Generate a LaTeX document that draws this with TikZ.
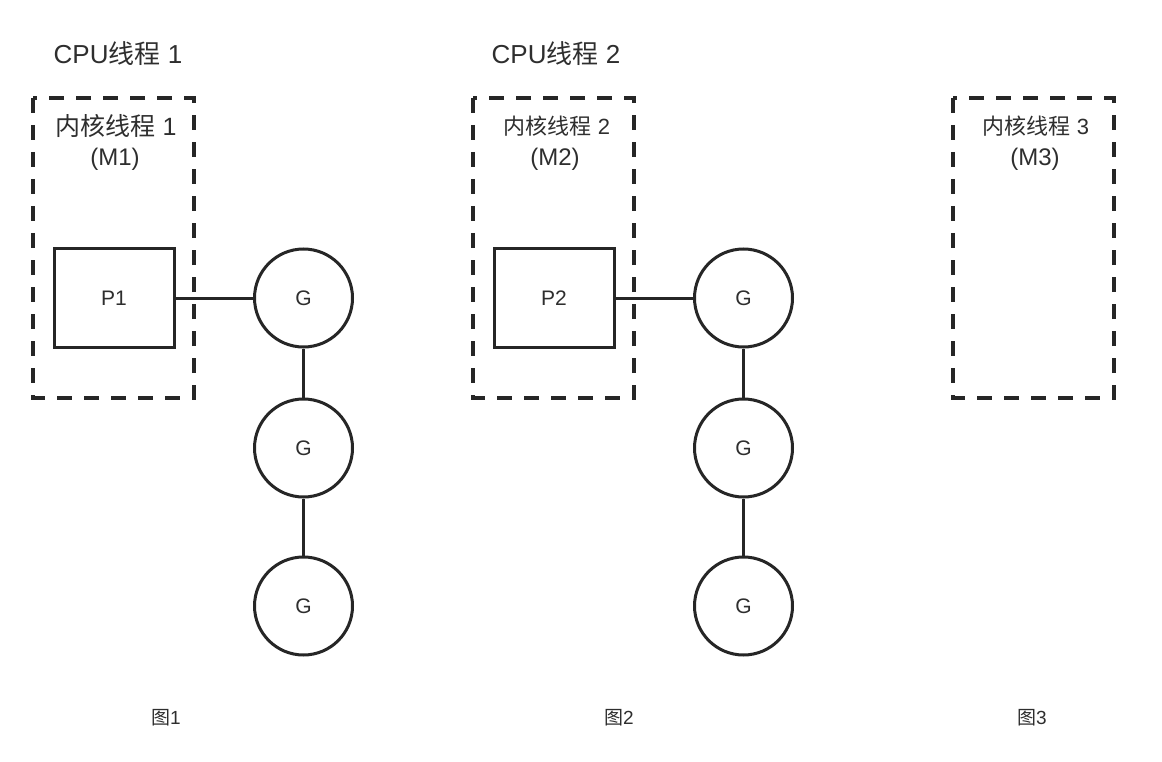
\documentclass[tikz,border=0pt]{standalone}
\usepackage{fontspec}
\setmainfont{Liberation Sans}
\newfontfamily\cjk{Noto Sans CJK SC}
\newcommand{\zh}[1]{{\cjk #1}}

\begin{document}
\begin{tikzpicture}[%
        x = 1pt,
        y = -1pt,
        every node/.style = {%
            text = black!82,
            inner sep = 0pt
        },
        kernel/.style = {%
            draw = black!85,
            line width = 3.6pt,
            dash pattern = on 15pt off 12pt
        },
        pbox/.style = {%
            draw = black!85,
            line width = 3pt,
            minimum width = 120pt,
            minimum height = 98pt,
            font = \fontsize{21}{24}\selectfont
        },
        gnode/.style = {%
            circle,
            draw = black!85,
            line width = 3pt,
            minimum size = 98pt,
            font = \fontsize{21}{24}\selectfont
        },
        link/.style = {%
            draw = black!85,
            line width = 3pt
        }
    ]

        % Fix the page to the size of the reference.
        \useasboundingbox (0, 0) rectangle (1162, 762);

        % Titles above the first two columns.
        \node[font = \fontsize{26}{30}\selectfont] (cpu1) at (118, 54) {CPU\zh{线程} 1};
        \node[font = \fontsize{26}{30}\selectfont] (cpu2) at (556, 54) {CPU\zh{线程} 2};

        % Dashed boxes for the three kernel threads.
        \draw[kernel] (33, 98) rectangle (194, 398);
        \draw[kernel] (473, 98) rectangle (634, 398);
        \draw[kernel] (953, 98) rectangle (1114, 398);

        \node[font = \fontsize{25}{28}\selectfont] (k1) at (116, 126) {\zh{内核线程} 1};
        \node[font = \fontsize{24}{28}\selectfont] (m1) at (115, 159) {(M1)};
        \node[font = \fontsize{22}{26}\selectfont] (k2) at (557, 126) {\zh{内核线程} 2};
        \node[font = \fontsize{24}{28}\selectfont] (m2) at (555, 159) {(M2)};
        \node[font = \fontsize{22}{26}\selectfont] (k3) at (1036, 126) {\zh{内核线程} 3};
        \node[font = \fontsize{24}{28}\selectfont] (m3) at (1035, 159) {(M3)};

        % Processors and their queues of goroutines.
        \node[pbox] (p1) at (114, 298) {P1};
        \node[gnode] (g11) at (303.5, 298) {G};
        \node[gnode] (g12) at (303.5, 448) {G};
        \node[gnode] (g13) at (303.5, 606) {G};

        \node[pbox] (p2) at (554, 298) {P2};
        \node[gnode] (g21) at (743.5, 298) {G};
        \node[gnode] (g22) at (743.5, 448) {G};
        \node[gnode] (g23) at (743.5, 606) {G};

        \draw[link] (p1) -- (g11);
        \draw[link] (g11) -- (g12);
        \draw[link] (g12) -- (g13);
        \draw[link] (p2) -- (g21);
        \draw[link] (g21) -- (g22);
        \draw[link] (g22) -- (g23);

        % Captions.
        \node[font = \fontsize{19}{22}\selectfont] (fig1) at (166, 718) {\zh{图}1};
        \node[font = \fontsize{19}{22}\selectfont] (fig2) at (619, 718) {\zh{图}2};
        \node[font = \fontsize{19}{22}\selectfont] (fig3) at (1032, 718) {\zh{图}3};
    \end{tikzpicture}
\end{document}
